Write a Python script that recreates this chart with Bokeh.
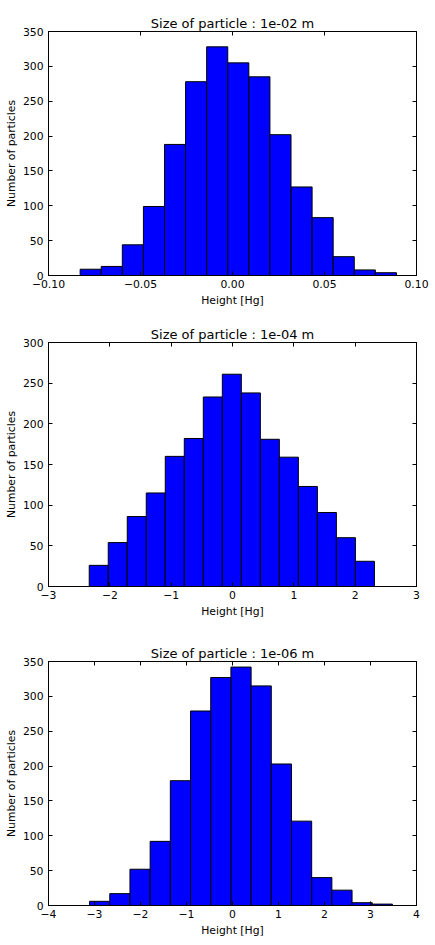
import numpy as np
from bokeh.plotting import figure
from bokeh.models import Range1d, LinearAxis, FixedTicker
from bokeh.layouts import column
from bokeh.embed import file_html
from bokeh.resources import INLINE

# ---------------- data ----------------
titles = ["Size of particle : 1e-02 m",
          "Size of particle : 1e-04 m",
          "Size of particle : 1e-06 m"]

counts_1 = [9, 13, 44, 99, 188, 278, 328, 305, 285, 202, 127, 83, 27, 8, 4]
bin_range_1 = (-0.0828, 0.0891)
counts_2 = [26, 54, 86, 115, 160, 182, 233, 261, 238, 181, 159, 123, 91, 60, 31]
bin_range_2 = (-2.336, 2.314)
counts_3 = [6, 17, 52, 92, 179, 279, 327, 342, 315, 203, 121, 40, 22, 4, 2]
bin_range_3 = (-3.107, 3.477)

xlim_1 = (-0.1, 0.1)
xlim_2 = (-3, 3)
xlim_3 = (-4, 4)
ylim_1 = (0, 350)
ylim_2 = (0, 300)
ylim_3 = (0, 350)

xticks_1 = [-0.10, -0.05, 0.0, 0.05, 0.10]
xlabels_1 = ["\u22120.10", "\u22120.05", "0.00", "0.05", "0.10"]
xticks_2 = [-3, -2, -1, 0, 1, 2, 3]
xlabels_2 = ["\u22123", "\u22122", "\u22121", "0", "1", "2", "3"]
xticks_3 = [-4, -3, -2, -1, 0, 1, 2, 3, 4]
xlabels_3 = ["\u22124", "\u22123", "\u22122", "\u22121", "0", "1", "2", "3", "4"]
yticks_1 = [0, 50, 100, 150, 200, 250, 300, 350]
yticks_2 = [0, 50, 100, 150, 200, 250, 300]
yticks_3 = [0, 50, 100, 150, 200, 250, 300, 350]

x_label = "Height [Hg]"
y_label = "Number of particles"

FONT = "DejaVu Sans"
TICK_FS = "10.8px"


def make_panel(title, counts, bin_range, xlim, ylim, xticks, xlabels, yticks, min_bottom):
    edges = np.linspace(bin_range[0], bin_range[1], len(counts) + 1)
    p = figure(frame_width=368, frame_height=244,
               x_range=Range1d(*xlim), y_range=Range1d(*ylim),
               output_backend="svg", toolbar_location=None,
               min_border_left=48, min_border_right=19,
               min_border_top=31, min_border_bottom=min_bottom)
    p.title.text = title
    p.title.align = "center"
    p.title.text_font = FONT
    p.title.text_font_size = "13px"
    p.title.text_font_style = "normal"
    p.title.text_color = "black"
    p.title.standoff = 1

    p.quad(left=edges[:-1], right=edges[1:], bottom=0, top=counts,
           fill_color="#0000ff", line_color="black", line_width=1)

    p.xgrid.visible = False
    p.ygrid.visible = False
    p.outline_line_color = "black"
    p.outline_line_width = 1
    p.outline_line_alpha = 1
    p.background_fill_color = "white"
    p.border_fill_color = "white"

    xt = FixedTicker(ticks=xticks)
    yt = FixedTicker(ticks=yticks)
    xo = {v: l for v, l in zip(xticks, xlabels)}

    ax = p.xaxis[0]
    ax.ticker = xt
    ax.major_label_overrides = xo
    ay = p.yaxis[0]
    ay.ticker = yt
    for a, lab in ((ax, x_label), (ay, y_label)):
        a.axis_label = lab
        a.axis_label_text_font = FONT
        a.axis_label_text_font_size = TICK_FS
        a.axis_label_text_font_style = "normal"
        a.axis_label_text_color = "black"
        a.major_label_text_font = FONT
        a.major_label_text_font_size = TICK_FS
        a.major_label_text_color = "black"
        a.major_tick_in = 4
        a.major_tick_out = 0
        a.minor_tick_in = 0
        a.minor_tick_out = 0
        a.major_tick_line_color = "black"
        a.axis_line_color = "black"
    ax.major_label_standoff = 4
    ax.axis_label_standoff = 3
    ay.major_label_standoff = 5
    ay.axis_label_standoff = 2

    # mirrored ticks on top and right
    top = LinearAxis(ticker=FixedTicker(ticks=xticks))
    right = LinearAxis(ticker=FixedTicker(ticks=yticks))
    for a in (top, right):
        a.major_tick_in = 4
        a.major_tick_out = 0
        a.minor_tick_in = 0
        a.minor_tick_out = 0
        a.major_label_text_font_size = "0px"
        a.major_label_text_alpha = 0
        a.major_label_standoff = 0
        a.major_tick_line_color = "black"
        a.axis_line_color = "black"
    p.add_layout(top, "above")
    p.add_layout(right, "right")
    return p


p1 = make_panel(titles[0], counts_1, bin_range_1, xlim_1, ylim_1, xticks_1, xlabels_1, yticks_1, 36)
p2 = make_panel(titles[1], counts_2, bin_range_2, xlim_2, ylim_2, xticks_2, xlabels_2, yticks_2, 44)
p3 = make_panel(titles[2], counts_3, bin_range_3, xlim_3, ylim_3, xticks_3, xlabels_3, yticks_3, 38)

layout = column(p1, p2, p3, spacing=0)
open("out.html", "w").write(file_html(layout, INLINE))
